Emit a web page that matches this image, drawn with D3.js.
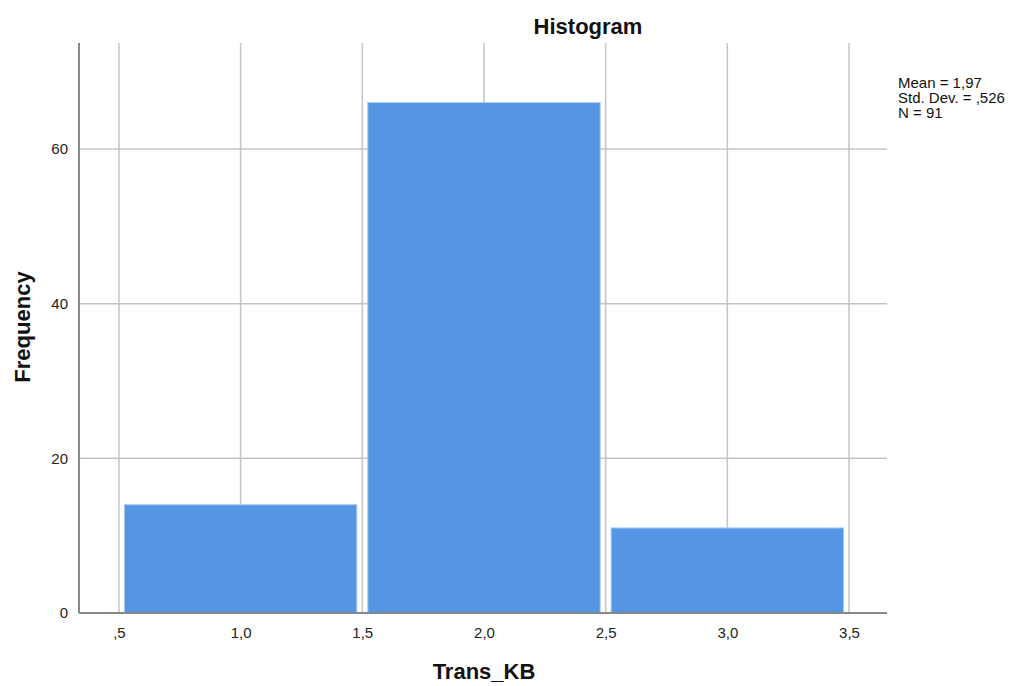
<!DOCTYPE html>
<html><head><meta charset="utf-8">
<script src="https://cdn.jsdelivr.net/npm/d3@7"></script>
<style>body{margin:0;background:#fff}svg{font-family:Arial,"Liberation Sans",sans-serif}</style>
</head><body>
<svg id="c" width="1011" height="686"></svg>
<script>
const binStarts = [0.5, 1.5, 2.5];
const binEnds = [1.5, 2.5, 3.5];
const counts = [14, 66, 11];
const xTicks = [0.5, 1.0, 1.5, 2.0, 2.5, 3.0, 3.5];
const xTickLabels = [",5", "1,0", "1,5", "2,0", "2,5", "3,0", "3,5"];
const yTicks = [0, 20, 40, 60];
const stats = ["Mean = 1,97", "Std. Dev. = ,526", "N = 91"];

const svg = d3.select("#c");
const L = 79, R = 887, T = 43, B = 613;
const x = d3.scaleLinear().domain([0.336, 3.656]).range([L, R]);
const y = d3.scaleLinear().domain([0, 73.7]).range([B, T]);

const g = svg.append("g");
// gridlines
g.selectAll(".vg").data(xTicks).join("line")
  .attr("x1", d => x(d)).attr("x2", d => x(d)).attr("y1", T).attr("y2", B)
  .attr("stroke", "#c4c4c4").attr("stroke-width", 1.5);
g.selectAll(".hg").data(yTicks.filter(d => d > 0)).join("line")
  .attr("x1", L).attr("x2", R).attr("y1", d => y(d)).attr("y2", d => y(d))
  .attr("stroke", "#c4c4c4").attr("stroke-width", 1.5);

// bars
const bars = binStarts.map((s, i) => ({s, e: binEnds[i], c: counts[i]}));
g.selectAll(".bar").data(bars).join("rect")
  .attr("x", d => x(d.s) + 5.5).attr("width", d => x(d.e) - x(d.s) - 11)
  .attr("y", d => y(d.c)).attr("height", d => y(0) - y(d.c))
  .attr("fill", "#5596e4").attr("stroke", "#a9c8f0").attr("stroke-width", 1);

// axes
const xAxis = d3.axisBottom(x).tickValues(xTicks).tickFormat((d, i) => xTickLabels[i]).tickSize(0).tickPadding(14);
const gx = svg.append("g").attr("transform", `translate(0,${B})`).call(xAxis);
gx.select(".domain").remove();
gx.selectAll("text").attr("font-size", 15).attr("fill", "#222").attr("font-family", "Arial, 'Liberation Sans', sans-serif");
const yAxis = d3.axisLeft(y).tickValues(yTicks).tickSize(0).tickPadding(11);
const gy = svg.append("g").attr("transform", `translate(${L},0)`).call(yAxis);
gy.select(".domain").remove();
gy.selectAll("text").attr("font-size", 15).attr("fill", "#222").attr("font-family", "Arial, 'Liberation Sans', sans-serif");

svg.append("line").attr("x1", L).attr("x2", L).attr("y1", T).attr("y2", B).attr("stroke", "#888").attr("stroke-width", 2);
svg.append("line").attr("x1", L).attr("x2", R).attr("y1", B).attr("y2", B).attr("stroke", "#888").attr("stroke-width", 2);

// titles
svg.append("text").attr("x", 588).attr("y", 34).attr("text-anchor", "middle")
  .attr("font-size", 22).attr("font-weight", "bold").attr("fill", "#111").text("Histogram");
svg.append("text").attr("x", 484).attr("y", 679).attr("text-anchor", "middle")
  .attr("font-size", 22).attr("font-weight", "bold").attr("fill", "#111").text("Trans_KB");
svg.append("text").attr("transform", "translate(30,327) rotate(-90)").attr("text-anchor", "middle")
  .attr("font-size", 22).attr("font-weight", "bold").attr("fill", "#111").text("Frequency");

svg.append("g").selectAll("text").data(stats).join("text")
  .attr("x", 898).attr("y", (d, i) => 88 + i * 15)
  .attr("font-size", 15).attr("fill", "#111").text(d => d);
</script>
</body></html>
